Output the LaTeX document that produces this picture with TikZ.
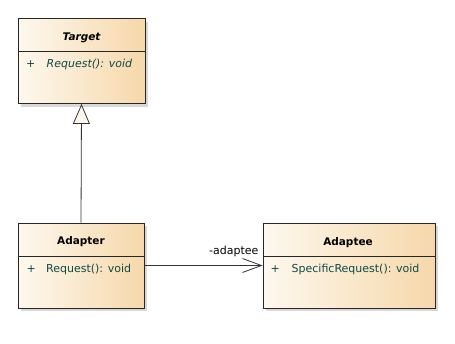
\documentclass[tikz,border=0pt]{standalone}
\usepackage{fontspec}
\setmainfont{DejaVu Sans}
\usetikzlibrary{arrows.meta,shadows,positioning}

\definecolor{classleft}{HTML}{FDF8EE}
\definecolor{classright}{HTML}{F6D8AA}
\definecolor{opcolor}{HTML}{0E4A45}
\newcommand\headfont{\fontsize{10.5}{12}\selectfont\bfseries}
\newcommand\opfont{\fontsize{11}{13}\selectfont}

\tikzset{
  umlclass/.style={rectangle, draw=black!85, line width=0.8pt, inner sep=0pt,
    left color=classleft, right color=classright, minimum height=85pt,
    drop shadow={shadow xshift=3pt, shadow yshift=-3pt, fill=black!30}},
  classname/.style={font=\headfont},
  visib/.style={font=\opfont, text=opcolor, anchor=base west, inner sep=0pt},
  operation/.style={font=\opfont, text=opcolor, anchor=base west, inner sep=0pt},
  divider/.style={draw=black!85, line width=0.8pt},
  conn/.style={draw=black!80, line width=0.8pt},
}

\begin{document}
\begin{tikzpicture}[x=1pt, y=-1pt]
  \useasboundingbox (0,0) rectangle (455,343);

  % classes
  \node[umlclass, minimum width=127pt] (target) at (81.5,61) {};
  \node[umlclass, minimum width=126pt] (adapter) at (81,265.5) {};
  \node[umlclass, minimum width=172pt] (adaptee) at (349,265.5) {};

  % Target
  \node[classname, font=\headfont\itshape] (targetname) at (81.5,37.5) {Target};
  \draw[divider] ([yshift=-33.5pt]target.north west) -- ([yshift=-33.5pt]target.north east);
  \node[visib] (targetvis) at (26,67) {+};
  \node[operation, font=\opfont\itshape] (targetop) at (46.5,67) {Request(): void};

  % Adapter
  \node[classname] (adaptername) at (81,241.5) {Adapter};
  \draw[divider] ([yshift=-34pt]adapter.north west) -- ([yshift=-34pt]adapter.north east);
  \node[visib] (adaptervis) at (26.5,272) {+};
  \node[operation] (adapterop) at (46,272) {Request(): void};

  % Adaptee
  \node[classname] (adapteename) at (348,242.5) {Adaptee};
  \draw[divider] ([yshift=-34pt]adaptee.north west) -- ([yshift=-34pt]adaptee.north east);
  \node[visib] (adapteevis) at (270.5,272) {+};
  \node[operation] (adapteeop) at (291.5,272) {SpecificRequest(): void};

  % relations
  \draw[conn, -{Triangle[open, length=20pt, width=17pt, fill=classleft]}]
    (adapter.north) -- (target.south);
  \draw[conn, -{Straight Barb[length=19pt, width=14pt]}]
    (adapter.east) -- (adaptee.west);
  \node[font=\opfont, anchor=base east, inner sep=0pt] (adapteerole)
    at ([xshift=-4pt, yshift=11pt]adaptee.west) {-adaptee};
\end{tikzpicture}
\end{document}
